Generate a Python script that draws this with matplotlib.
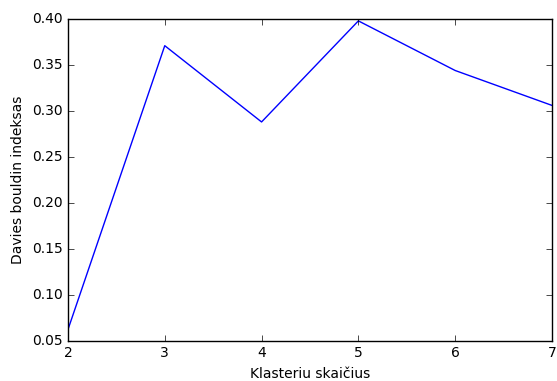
import matplotlib
matplotlib.use("Agg")
import matplotlib.pyplot as plt

plt.style.use("classic")

# cluster counts and the Davies-Bouldin index
clusters = [2, 3, 4, 5, 6, 7]
db_index = [0.062, 0.371, 0.288, 0.398, 0.344, 0.306]

fig = plt.figure(figsize=(5.57, 3.81), dpi=100, facecolor="white")
ax = fig.add_axes([0.122, 0.106, 0.869, 0.844])
ax.plot(clusters, db_index, color="blue", linewidth=1.0)

ax.set_xlim(2, 7)
ax.set_ylim(0.05, 0.40)
ax.set_xticks(clusters)
ax.set_yticks([0.05, 0.10, 0.15, 0.20, 0.25, 0.30, 0.35, 0.40])
ax.tick_params(labelsize=10)
ax.set_xlabel("Klasteriu skaičius", fontsize=10)
ax.set_ylabel("Davies bouldin indeksas", fontsize=10)

fig.savefig("out.png", dpi=100, facecolor="white")
